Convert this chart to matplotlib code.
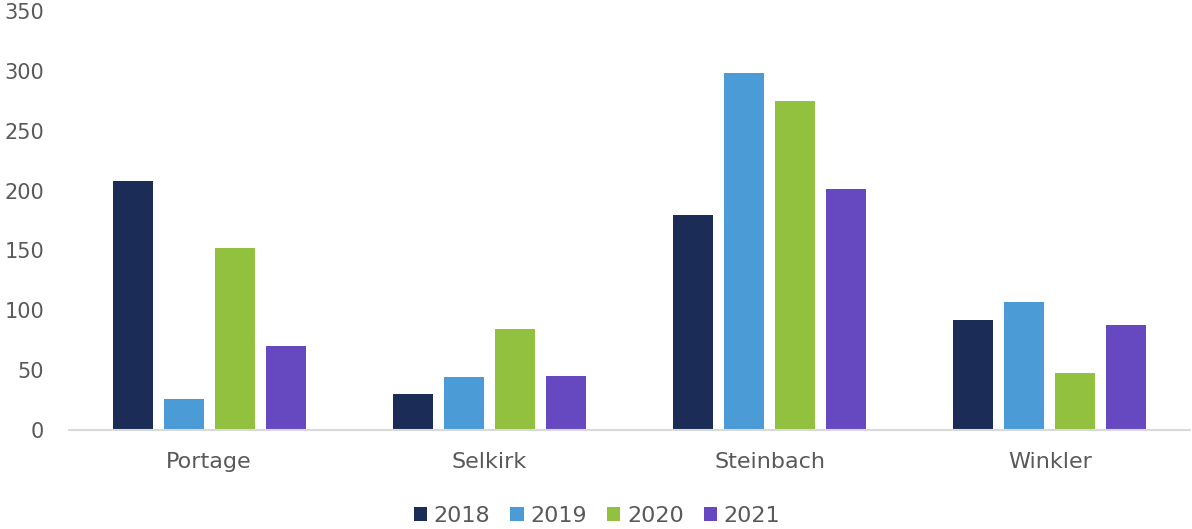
import numpy as np
import matplotlib.pyplot as plt

cities = ['Portage', 'Selkirk', 'Steinbach', 'Winkler']
years = ['2018', '2019', '2020', '2021']
v2018 = [208, 30, 180, 92]
v2019 = [26, 44, 298, 107]
v2020 = [152, 84, 275, 48]
v2021 = [70, 45, 201, 88]
colors = ['#1b2d57', '#4a9bd6', '#92c03f', '#6649c0']

plt.rcParams['font.family'] = ['DejaVu Sans']
txt = '#595959'

fig = plt.figure(figsize=(11.92, 5.29), dpi=100)
ax = fig.add_axes([69/1192, 1 - 430/529, 1121/1192, 419/529])

x = np.arange(len(cities))
w = 0.143
step = 0.182
for i, (yr, vals) in enumerate(zip(years, [v2018, v2019, v2020, v2021])):
    ax.bar(x + (i - 1.5) * step, vals, width=w, color=colors[i], label=yr, zorder=2)

ax.set_xlim(-0.5, 3.5)
ax.set_ylim(0, 350)
ax.set_yticks(range(0, 351, 50))
ax.set_xticks(x)
ax.set_xticklabels(cities)
ax.tick_params(axis='y', length=0, labelsize=15, colors=txt, pad=18)
ax.tick_params(axis='x', length=0, labelsize=16, colors=txt, pad=16)
for s in ['top', 'right', 'left']:
    ax.spines[s].set_visible(False)
ax.spines['bottom'].set_color('#d9d9d9')
ax.spines['bottom'].set_linewidth(1.5)

ax.legend(loc='center', bbox_to_anchor=(0.5 - 69/1192/2, -0.205), ncol=4, frameon=False,
          fontsize=16, labelcolor=txt, handlelength=0.6, handleheight=0.6,
          handletextpad=0.3, columnspacing=0.9)

fig.savefig('out.png', dpi=100)
